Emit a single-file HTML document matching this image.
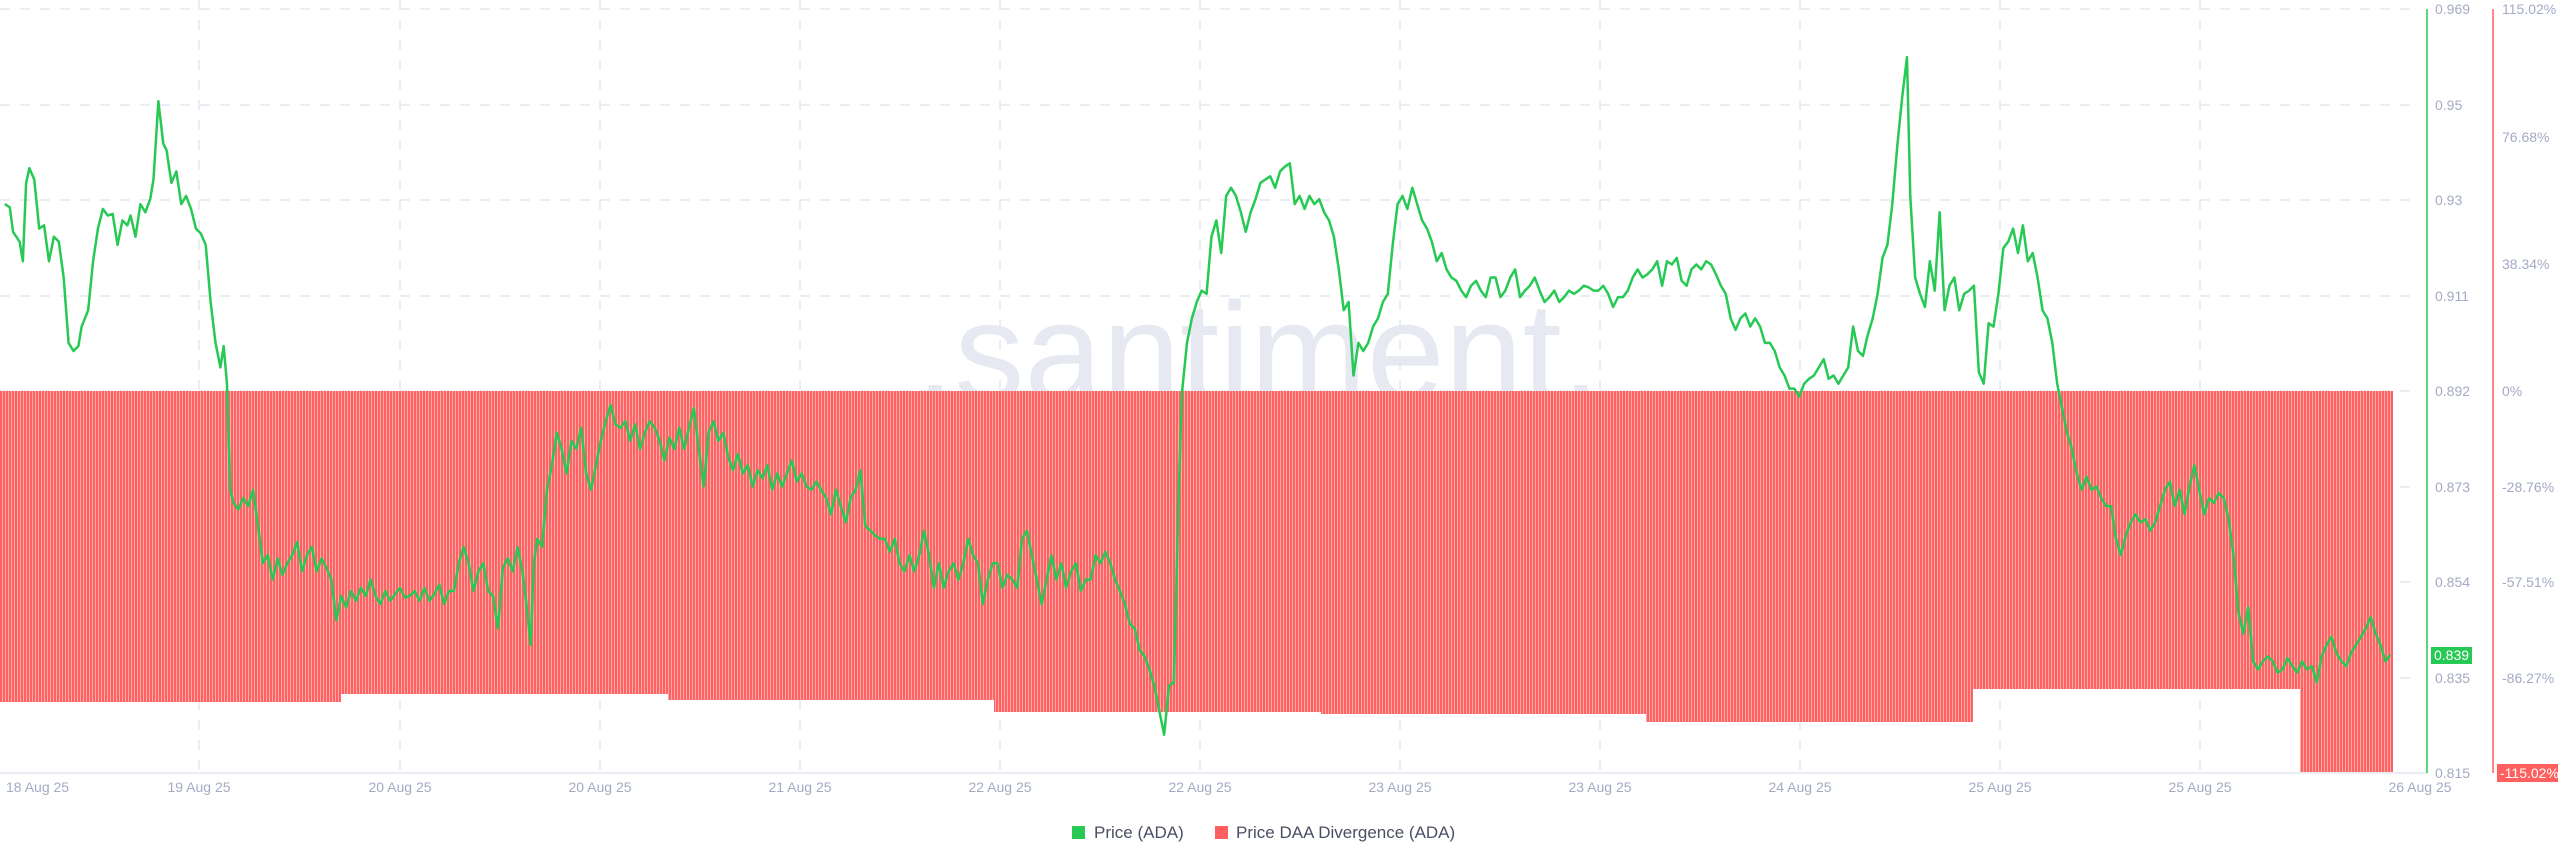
<!DOCTYPE html>
<html><head><meta charset="utf-8"><style>
html,body{margin:0;padding:0;background:#fff;width:2560px;height:867px;overflow:hidden}
svg{display:block;font-family:"Liberation Sans",sans-serif}
</style></head><body>
<svg width="2560" height="867" viewBox="0 0 2560 867">
<defs>
<pattern id="st" width="3" height="10" patternUnits="userSpaceOnUse">
<rect width="3" height="10" fill="#ffa8a8"/><rect width="2" height="10" fill="#ff6262"/>
</pattern>
</defs>
<text x="1258" y="400" font-size="140" fill="#e7e9f2" text-anchor="middle">.santiment.</text>
<g stroke="#e4e7ef" stroke-width="1.5" stroke-dasharray="10 10">
<line x1="0" y1="9" x2="2420" y2="9"/><line x1="0" y1="105" x2="2420" y2="105"/>
<line x1="0" y1="200" x2="2420" y2="200"/><line x1="0" y1="296" x2="2420" y2="296"/>
<line x1="0" y1="391" x2="2420" y2="391"/><line x1="0" y1="487" x2="2420" y2="487"/>
<line x1="0" y1="582" x2="2420" y2="582"/><line x1="0" y1="678" x2="2420" y2="678"/>
<line x1="199" y1="0" x2="199" y2="772"/><line x1="400" y1="0" x2="400" y2="772"/>
<line x1="600" y1="0" x2="600" y2="772"/><line x1="800" y1="0" x2="800" y2="772"/>
<line x1="1000" y1="0" x2="1000" y2="772"/><line x1="1200" y1="0" x2="1200" y2="772"/>
<line x1="1400" y1="0" x2="1400" y2="772"/><line x1="1600" y1="0" x2="1600" y2="772"/>
<line x1="1800" y1="0" x2="1800" y2="772"/><line x1="2000" y1="0" x2="2000" y2="772"/>
<line x1="2200" y1="0" x2="2200" y2="772"/>
</g>
<g fill="url(#st)">
<rect x="0" y="391" width="341" height="311"/>
<rect x="341" y="391" width="327" height="303"/>
<rect x="668" y="391" width="326" height="309"/>
<rect x="994" y="391" width="327" height="321"/>
<rect x="1321" y="391" width="325" height="323"/>
<rect x="1646" y="391" width="327" height="331"/>
<rect x="1973" y="391" width="327" height="298"/>
<rect x="2300" y="391" width="93" height="381"/>
</g>
<line x1="0" y1="773" x2="2427" y2="773" stroke="#e4e7ef" stroke-width="1.5"/>
<g transform="scale(1.6327)">
<polyline fill="none" stroke="#26c953" stroke-width="2.5" vector-effect="non-scaling-stroke" stroke-linejoin="round" points="3,125 6,127 8,142 12,148 14,160 16,112 18,103 21,110 24,140 27,138 30,160 33,145 36,148 39,170 42,210 45,215 48,212 50,200 54,190 57,160 60,140 63,128 66,132 69,131 72,150 75,135 78,138 80,132 83,145 86,125 89,130 92,122 94,110 97,62 100,88 102,92 105,112 108,105 111,125 114,120 117,128 120,140 123,143 126,150 129,185 132,210 135,225 137,212 139,235 141,300 143,308 146,312 149,305 152,310 155,300 158,322 161,345 164,340 167,355 170,342 173,352 176,345 179,340 182,332 185,350 188,340 191,335 194,350 197,342 200,348 203,355 206,380 209,365 212,372 215,362 218,368 221,360 224,365 227,355 230,365 233,370 236,362 239,368 242,364 245,360 248,366 251,365 254,362 257,368 260,360 263,368 266,364 269,358 272,370 275,362 278,362 281,345 284,335 287,345 290,362 293,350 296,345 299,362 302,365 305,385 308,348 311,342 314,350 317,335 320,350 323,375 325,395 327,345 329,330 332,335 335,300 338,285 341,265 344,275 347,290 350,270 353,275 356,262 359,290 362,300 365,285 368,270 371,258 374,248 377,260 380,262 383,258 386,270 389,260 392,275 395,265 398,258 401,262 404,270 407,282 410,268 413,275 416,262 419,275 422,262 425,250 428,275 431,298 434,265 437,258 440,270 443,265 446,280 449,288 452,278 455,290 458,285 461,298 464,288 467,293 470,285 473,300 476,290 479,298 482,290 485,282 488,295 491,290 494,298 497,300 500,295 503,300 506,305 509,315 512,300 515,310 518,320 521,305 524,300 527,288 530,322 533,325 536,328 539,330 542,330 545,338 548,330 551,345 554,350 557,340 560,350 563,340 566,325 569,340 572,360 575,345 578,360 581,350 584,345 587,355 590,345 593,330 596,340 599,345 602,370 605,355 608,345 611,345 614,360 617,352 620,355 623,360 626,330 629,325 632,340 635,355 638,370 641,355 644,340 647,355 650,345 653,360 656,350 659,345 662,362 665,355 668,355 671,340 674,345 677,338 680,345 683,355 686,362 689,370 692,382 695,385 698,398 701,402 704,410 707,420 710,435 713,450 716,420 719,418 722,300 724,240 727,210 730,195 733,185 736,178 739,180 742,145 745,135 748,155 751,120 754,115 757,120 760,130 763,142 766,130 769,122 772,112 775,110 778,108 781,115 784,105 787,102 790,100 793,125 796,120 799,128 802,120 805,125 808,122 811,130 814,135 817,145 820,165 823,190 826,185 829,230 832,210 835,215 838,210 841,200 844,195 847,185 850,180 853,150 856,125 859,120 862,128 865,115 868,125 871,135 874,140 877,148 880,160 883,155 886,165 889,170 892,172 895,178 898,182 901,175 904,172 907,178 910,182 913,170 916,170 919,182 922,178 925,170 928,165 931,182 934,178 937,175 940,170 943,178 946,185 949,182 952,178 955,185 958,182 961,178 964,180 967,178 970,175 973,176 976,178 979,178 982,175 985,180 988,188 991,182 994,182 997,178 1000,170 1003,165 1006,170 1009,168 1012,165 1015,160 1018,175 1021,160 1024,162 1027,158 1030,172 1033,175 1036,165 1039,162 1042,165 1045,160 1048,162 1051,168 1054,175 1057,180 1060,195 1063,202 1066,195 1069,192 1072,200 1075,195 1078,200 1081,210 1084,210 1087,215 1090,225 1093,230 1096,238 1099,238 1102,243 1105,235 1108,232 1111,230 1114,225 1117,220 1120,232 1123,230 1126,235 1129,230 1132,225 1135,200 1138,215 1141,218 1144,205 1147,195 1150,180 1153,158 1156,150 1159,125 1162,90 1165,60 1168,35 1170,120 1173,170 1176,180 1179,188 1182,160 1185,178 1188,130 1191,190 1194,175 1197,170 1200,190 1203,180 1206,178 1209,175 1212,228 1215,235 1218,198 1221,200 1224,180 1227,152 1230,148 1233,140 1236,155 1239,138 1242,160 1245,155 1248,170 1251,190 1254,195 1257,210 1260,235 1263,250 1266,265 1269,275 1272,290 1275,300 1278,292 1281,300 1284,298 1287,305 1290,310 1293,310 1296,330 1299,340 1302,328 1305,320 1308,315 1311,320 1314,318 1317,325 1320,320 1323,310 1326,300 1329,295 1332,310 1335,300 1338,315 1341,298 1344,285 1347,300 1350,315 1353,305 1356,308 1359,302 1362,305 1365,318 1368,340 1371,375 1374,388 1377,372 1380,405 1383,410 1386,405 1389,402 1392,405 1395,412 1398,410 1401,403 1404,408 1407,412 1410,405 1413,410 1416,408 1419,418 1422,402 1425,395 1428,390 1431,400 1434,405 1437,408 1440,400 1443,395 1446,390 1449,385 1452,378 1455,388 1458,395 1461,405 1464,401"/>
</g>
<line x1="2427" y1="9" x2="2427" y2="773" stroke="#26c953" stroke-width="1.5"/>
<line x1="2493" y1="9" x2="2493" y2="773" stroke="#ff5f5f" stroke-width="1.5"/>
<g font-size="14" fill="#a3aac4">
<text x="2435" y="14">0.969</text><text x="2435" y="110">0.95</text>
<text x="2435" y="205">0.93</text><text x="2435" y="301">0.911</text>
<text x="2435" y="396">0.892</text><text x="2435" y="492">0.873</text>
<text x="2435" y="587">0.854</text><text x="2435" y="683">0.835</text>
<text x="2435" y="778">0.815</text>
<text x="2502" y="14">115.02%</text><text x="2502" y="142">76.68%</text>
<text x="2502" y="269">38.34%</text><text x="2502" y="396">0%</text>
<text x="2502" y="492">-28.76%</text><text x="2502" y="587">-57.51%</text>
<text x="2502" y="683">-86.27%</text>
</g>
<rect x="2431" y="647" width="41" height="17" fill="#26c953"/>
<text x="2434" y="660" font-size="14" fill="#fff">0.839</text>
<rect x="2497" y="764" width="61" height="18" fill="#ff5f5f"/>
<text x="2500" y="778" font-size="14" fill="#fff">-115.02%</text>
<g font-size="14" fill="#a3aac4" text-anchor="middle">
<text x="6" y="792" text-anchor="start">18 Aug 25</text>
<text x="199" y="792">19 Aug 25</text><text x="400" y="792">20 Aug 25</text>
<text x="600" y="792">20 Aug 25</text><text x="800" y="792">21 Aug 25</text>
<text x="1000" y="792">22 Aug 25</text><text x="1200" y="792">22 Aug 25</text>
<text x="1400" y="792">23 Aug 25</text><text x="1600" y="792">23 Aug 25</text>
<text x="1800" y="792">24 Aug 25</text><text x="2000" y="792">25 Aug 25</text>
<text x="2200" y="792">25 Aug 25</text><text x="2420" y="792">26 Aug 25</text>
</g>
<rect x="1072" y="826" width="13" height="13" fill="#26c953"/>
<text x="1094" y="838" font-size="17" fill="#4a4f63">Price (ADA)</text>
<rect x="1215" y="826" width="13" height="13" fill="#ff5f5f"/>
<text x="1236" y="838" font-size="17" fill="#4a4f63">Price DAA Divergence (ADA)</text>
</svg>
</body></html>
